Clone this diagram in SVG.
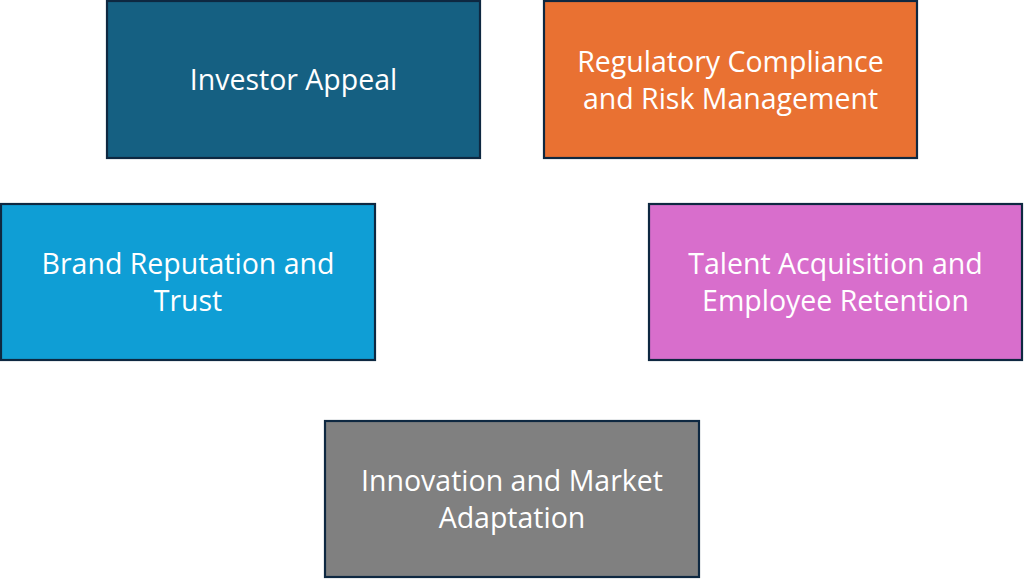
<svg xmlns="http://www.w3.org/2000/svg" width="1024" height="579" viewBox="0 0 1024 579">
<style>
.box{stroke:#0E2841;stroke-width:2.2}
.t{font-family:"Open Sans","Liberation Sans",sans-serif;font-size:28.5px;fill:#FFFFFF;text-anchor:middle;dominant-baseline:central}
</style>
<rect width="1024" height="579" fill="#FFFFFF"/>
<g id="investor-appeal">
<rect class="box" x="107" y="1" width="373" height="157" fill="#156082"/>
<text class="t" x="293.5" y="79">Investor Appeal</text>
</g>
<g id="regulatory-compliance">
<rect class="box" x="544" y="1" width="373" height="157" fill="#E97132"/>
<text class="t" x="730.5" y="61">Regulatory Compliance</text>
<text class="t" x="730.5" y="98">and Risk Management</text>
</g>
<g id="brand-reputation">
<rect class="box" x="1" y="204" width="374" height="156" fill="#0F9ED5"/>
<text class="t" x="188" y="263">Brand Reputation and</text>
<text class="t" x="188" y="300">Trust</text>
</g>
<g id="talent-acquisition">
<rect class="box" x="649" y="204" width="373" height="156" fill="#D86ECC"/>
<text class="t" x="835.5" y="263">Talent Acquisition and</text>
<text class="t" x="835.5" y="300">Employee Retention</text>
</g>
<g id="innovation">
<rect class="box" x="325" y="421" width="374" height="156" fill="#808080"/>
<text class="t" x="512" y="480">Innovation and Market</text>
<text class="t" x="512" y="517">Adaptation</text>
</g>
<g id="connectors"></g>
</svg>
